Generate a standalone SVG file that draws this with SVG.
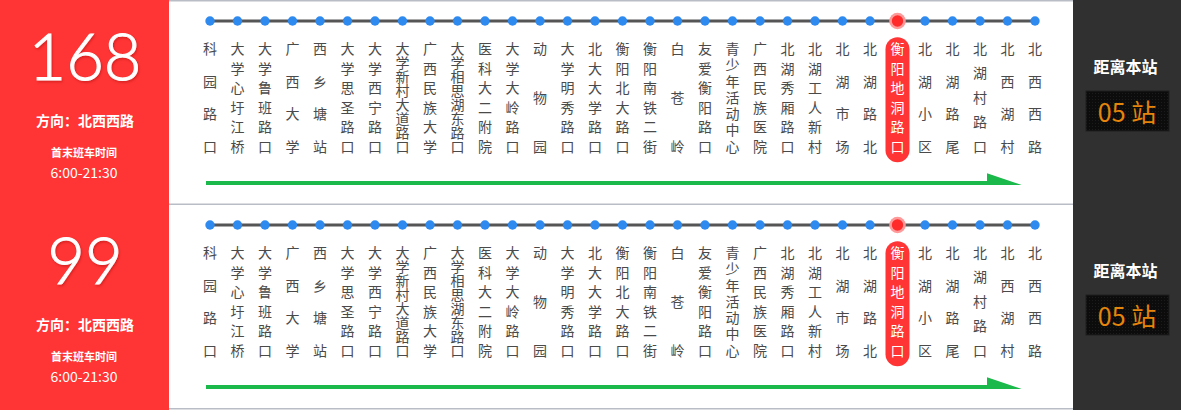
<svg xmlns="http://www.w3.org/2000/svg" width="1181" height="410" viewBox="0 0 1181 410">
<style>
.st text{font-family:"Noto Sans CJK SC","Noto Sans",sans-serif;font-size:14px;fill:#4a4a4a;text-anchor:middle}
.st circle{fill:#2f8af0}
.hl text{fill:#ffffff}
.num{font-family:Lato,"Liberation Sans",sans-serif;font-weight:300;font-size:65px;fill:#fff;stroke:#fff;stroke-width:1;text-anchor:middle}
.w{font-family:"Noto Sans CJK SC",sans-serif;fill:#fff;text-anchor:middle;font-weight:bold}
.tm{font-family:"Noto Sans CJK SC","Noto Sans",sans-serif;fill:#fff;text-anchor:middle;font-size:14px}
.cnt{font-family:"Noto Sans CJK SC","Noto Sans",sans-serif;font-size:25px;fill:#e5850b;text-anchor:middle}
.rail{stroke:#555;stroke-width:3}
.dir{stroke:#1bb84b;stroke-width:4}
.sep{stroke:#b9bdc5;stroke-width:1.5}
</style>
<defs>
<filter id="sh" x="-10%" y="-10%" width="130%" height="130%"><feDropShadow dx="1" dy="1.5" stdDeviation="1.2" flood-color="#800" flood-opacity="0.35"/></filter>
<pattern id="grid" width="3" height="3" patternUnits="userSpaceOnUse"><rect width="3" height="3" fill="#0c0c0c"/><rect width="1" height="1" fill="#1c1c1c"/></pattern>
</defs>
<rect x="0" y="0" width="1181" height="410" fill="#fff"/>
<g id="panels">
<rect x="0" y="0" width="169" height="410" fill="#ff3434"/>
<rect x="1073" y="0" width="108" height="410" fill="#303030"/>
<line class="sep" x1="169" y1="0.7" x2="1073" y2="0.7"/>
<line class="sep" x1="169" y1="204.3" x2="1073" y2="204.3"/>
<line class="sep" x1="169" y1="408.7" x2="1073" y2="408.7"/>
</g>
<g id="info1">
<text class="num" x="85" y="80" filter="url(#sh)">168</text>
<text class="w" x="85" y="126" font-size="14">方向：北西西路</text>
<text class="w" x="84" y="157" font-size="11">首末班车时间</text>
<text class="tm" x="84" y="178">6:00-21:30</text>
</g>
<g id="info2">
<text class="num" x="85" y="284" filter="url(#sh)">99</text>
<text class="w" x="85" y="330" font-size="14">方向：北西西路</text>
<text class="w" x="84" y="361" font-size="11">首末班车时间</text>
<text class="tm" x="84" y="382">6:00-21:30</text>
</g>
<g id="dist1">
<text class="w" x="1125.5" y="73" font-size="16">距离本站</text>
<rect x="1086" y="91" width="83" height="40" fill="url(#grid)" stroke="#1e1e1e"/>
<text class="cnt" x="1127" y="122">05 站</text>
</g>
<g id="dist2">
<text class="w" x="1125.5" y="277" font-size="16">距离本站</text>
<rect x="1086" y="295" width="83" height="40" fill="url(#grid)" stroke="#1e1e1e"/>
<text class="cnt" x="1127" y="326">05 站</text>
</g>
<g id="connectors">
<line class="rail" x1="210" y1="21" x2="1035" y2="21"/>
<line class="dir" x1="206" y1="183" x2="990" y2="183"/>
<polygon points="987,173.3 987,185 1021.7,185" fill="#1bb84b"/>
<line class="rail" x1="210" y1="225" x2="1035" y2="225"/>
<line class="dir" x1="206" y1="387" x2="990" y2="387"/>
<polygon points="987,377.3 987,389 1021.7,389" fill="#1bb84b"/>
</g>
<g id="row1">
<g id="r1s01" class="st" transform="translate(210,0)"><circle cx="0" cy="21" r="4.7"/><text x="0 0 0 0" y="54 86.6 119.1 151.7">科园路口</text></g>
<g id="r1s02" class="st" transform="translate(237.5,0)"><circle cx="0" cy="21" r="4.7"/><text x="0 0 0 0 0 0" y="54 73.5 93.1 112.6 132.2 151.7">大学心圩江桥</text></g>
<g id="r1s03" class="st" transform="translate(265,0)"><circle cx="0" cy="21" r="4.7"/><text x="0 0 0 0 0 0" y="54 73.5 93.1 112.6 132.2 151.7">大学鲁班路口</text></g>
<g id="r1s04" class="st" transform="translate(292.5,0)"><circle cx="0" cy="21" r="4.7"/><text x="0 0 0 0" y="54 86.6 119.1 151.7">广西大学</text></g>
<g id="r1s05" class="st" transform="translate(320,0)"><circle cx="0" cy="21" r="4.7"/><text x="0 0 0 0" y="54 86.6 119.1 151.7">西乡塘站</text></g>
<g id="r1s06" class="st" transform="translate(347.5,0)"><circle cx="0" cy="21" r="4.7"/><text x="0 0 0 0 0 0" y="54 73.5 93.1 112.6 132.2 151.7">大学思圣路口</text></g>
<g id="r1s07" class="st" transform="translate(375,0)"><circle cx="0" cy="21" r="4.7"/><text x="0 0 0 0 0 0" y="54 73.5 93.1 112.6 132.2 151.7">大学西宁路口</text></g>
<g id="r1s08" class="st" transform="translate(402.5,0)"><circle cx="0" cy="21" r="4.7"/><text x="0 0 0 0 0 0 0 0" y="54 68 81.9 95.9 109.8 123.8 137.7 151.7">大学新村大道路口</text></g>
<g id="r1s09" class="st" transform="translate(430,0)"><circle cx="0" cy="21" r="4.7"/><text x="0 0 0 0 0 0" y="54 73.5 93.1 112.6 132.2 151.7">广西民族大学</text></g>
<g id="r1s10" class="st" transform="translate(457.5,0)"><circle cx="0" cy="21" r="4.7"/><text x="0 0 0 0 0 0 0 0" y="54 68 81.9 95.9 109.8 123.8 137.7 151.7">大学相思湖东路口</text></g>
<g id="r1s11" class="st" transform="translate(485,0)"><circle cx="0" cy="21" r="4.7"/><text x="0 0 0 0 0 0" y="54 73.5 93.1 112.6 132.2 151.7">医科大二附院</text></g>
<g id="r1s12" class="st" transform="translate(512.5,0)"><circle cx="0" cy="21" r="4.7"/><text x="0 0 0 0 0 0" y="54 73.5 93.1 112.6 132.2 151.7">大学大岭路口</text></g>
<g id="r1s13" class="st" transform="translate(540,0)"><circle cx="0" cy="21" r="4.7"/><text x="0 0 0" y="54 102.9 151.7">动物园</text></g>
<g id="r1s14" class="st" transform="translate(567.5,0)"><circle cx="0" cy="21" r="4.7"/><text x="0 0 0 0 0 0" y="54 73.5 93.1 112.6 132.2 151.7">大学明秀路口</text></g>
<g id="r1s15" class="st" transform="translate(595,0)"><circle cx="0" cy="21" r="4.7"/><text x="0 0 0 0 0 0" y="54 73.5 93.1 112.6 132.2 151.7">北大大学路口</text></g>
<g id="r1s16" class="st" transform="translate(622.5,0)"><circle cx="0" cy="21" r="4.7"/><text x="0 0 0 0 0 0" y="54 73.5 93.1 112.6 132.2 151.7">衡阳北大路口</text></g>
<g id="r1s17" class="st" transform="translate(650,0)"><circle cx="0" cy="21" r="4.7"/><text x="0 0 0 0 0 0" y="54 73.5 93.1 112.6 132.2 151.7">衡阳南铁二街</text></g>
<g id="r1s18" class="st" transform="translate(677.5,0)"><circle cx="0" cy="21" r="4.7"/><text x="0 0 0" y="54 102.9 151.7">白苍岭</text></g>
<g id="r1s19" class="st" transform="translate(705,0)"><circle cx="0" cy="21" r="4.7"/><text x="0 0 0 0 0 0" y="54 73.5 93.1 112.6 132.2 151.7">友爱衡阳路口</text></g>
<g id="r1s20" class="st" transform="translate(732.5,0)"><circle cx="0" cy="21" r="4.7"/><text x="0 0 0 0 0 0 0" y="54 70.3 86.6 102.9 119.1 135.4 151.7">青少年活动中心</text></g>
<g id="r1s21" class="st" transform="translate(760,0)"><circle cx="0" cy="21" r="4.7"/><text x="0 0 0 0 0 0" y="54 73.5 93.1 112.6 132.2 151.7">广西民族医院</text></g>
<g id="r1s22" class="st" transform="translate(787.5,0)"><circle cx="0" cy="21" r="4.7"/><text x="0 0 0 0 0 0" y="54 73.5 93.1 112.6 132.2 151.7">北湖秀厢路口</text></g>
<g id="r1s23" class="st" transform="translate(815,0)"><circle cx="0" cy="21" r="4.7"/><text x="0 0 0 0 0 0" y="54 73.5 93.1 112.6 132.2 151.7">北湖工人新村</text></g>
<g id="r1s24" class="st" transform="translate(842.5,0)"><circle cx="0" cy="21" r="4.7"/><text x="0 0 0 0" y="54 86.6 119.1 151.7">北湖市场</text></g>
<g id="r1s25" class="st" transform="translate(870,0)"><circle cx="0" cy="21" r="4.7"/><text x="0 0 0 0" y="54 86.6 119.1 151.7">北湖路北</text></g>
<g id="r1s26" class="st hl" transform="translate(897.5,0)"><circle cx="0" cy="21" r="8.3" style="fill:#ff9a9a"/><circle cx="0" cy="21" r="5.7" style="fill:#ff2a2a"/><rect x="-12" y="37.3" width="24" height="125" rx="12" fill="#ff3434"/><text x="0 0 0 0 0 0" y="54 73.5 93.1 112.6 132.2 151.7">衡阳地洞路口</text></g>
<g id="r1s27" class="st" transform="translate(925,0)"><circle cx="0" cy="21" r="4.7"/><text x="0 0 0 0" y="54 86.6 119.1 151.7">北湖小区</text></g>
<g id="r1s28" class="st" transform="translate(952.5,0)"><circle cx="0" cy="21" r="4.7"/><text x="0 0 0 0" y="54 86.6 119.1 151.7">北湖路尾</text></g>
<g id="r1s29" class="st" transform="translate(980,0)"><circle cx="0" cy="21" r="4.7"/><text x="0 0 0 0 0" y="54 78.4 102.9 127.3 151.7">北湖村路口</text></g>
<g id="r1s30" class="st" transform="translate(1007.5,0)"><circle cx="0" cy="21" r="4.7"/><text x="0 0 0 0" y="54 86.6 119.1 151.7">北西湖村</text></g>
<g id="r1s31" class="st" transform="translate(1035,0)"><circle cx="0" cy="21" r="4.7"/><text x="0 0 0 0" y="54 86.6 119.1 151.7">北西西路</text></g>
</g>
<g id="row2">
<g id="r2s01" class="st" transform="translate(210,204)"><circle cx="0" cy="21" r="4.7"/><text x="0 0 0 0" y="54 86.6 119.1 151.7">科园路口</text></g>
<g id="r2s02" class="st" transform="translate(237.5,204)"><circle cx="0" cy="21" r="4.7"/><text x="0 0 0 0 0 0" y="54 73.5 93.1 112.6 132.2 151.7">大学心圩江桥</text></g>
<g id="r2s03" class="st" transform="translate(265,204)"><circle cx="0" cy="21" r="4.7"/><text x="0 0 0 0 0 0" y="54 73.5 93.1 112.6 132.2 151.7">大学鲁班路口</text></g>
<g id="r2s04" class="st" transform="translate(292.5,204)"><circle cx="0" cy="21" r="4.7"/><text x="0 0 0 0" y="54 86.6 119.1 151.7">广西大学</text></g>
<g id="r2s05" class="st" transform="translate(320,204)"><circle cx="0" cy="21" r="4.7"/><text x="0 0 0 0" y="54 86.6 119.1 151.7">西乡塘站</text></g>
<g id="r2s06" class="st" transform="translate(347.5,204)"><circle cx="0" cy="21" r="4.7"/><text x="0 0 0 0 0 0" y="54 73.5 93.1 112.6 132.2 151.7">大学思圣路口</text></g>
<g id="r2s07" class="st" transform="translate(375,204)"><circle cx="0" cy="21" r="4.7"/><text x="0 0 0 0 0 0" y="54 73.5 93.1 112.6 132.2 151.7">大学西宁路口</text></g>
<g id="r2s08" class="st" transform="translate(402.5,204)"><circle cx="0" cy="21" r="4.7"/><text x="0 0 0 0 0 0 0 0" y="54 68 81.9 95.9 109.8 123.8 137.7 151.7">大学新村大道路口</text></g>
<g id="r2s09" class="st" transform="translate(430,204)"><circle cx="0" cy="21" r="4.7"/><text x="0 0 0 0 0 0" y="54 73.5 93.1 112.6 132.2 151.7">广西民族大学</text></g>
<g id="r2s10" class="st" transform="translate(457.5,204)"><circle cx="0" cy="21" r="4.7"/><text x="0 0 0 0 0 0 0 0" y="54 68 81.9 95.9 109.8 123.8 137.7 151.7">大学相思湖东路口</text></g>
<g id="r2s11" class="st" transform="translate(485,204)"><circle cx="0" cy="21" r="4.7"/><text x="0 0 0 0 0 0" y="54 73.5 93.1 112.6 132.2 151.7">医科大二附院</text></g>
<g id="r2s12" class="st" transform="translate(512.5,204)"><circle cx="0" cy="21" r="4.7"/><text x="0 0 0 0 0 0" y="54 73.5 93.1 112.6 132.2 151.7">大学大岭路口</text></g>
<g id="r2s13" class="st" transform="translate(540,204)"><circle cx="0" cy="21" r="4.7"/><text x="0 0 0" y="54 102.9 151.7">动物园</text></g>
<g id="r2s14" class="st" transform="translate(567.5,204)"><circle cx="0" cy="21" r="4.7"/><text x="0 0 0 0 0 0" y="54 73.5 93.1 112.6 132.2 151.7">大学明秀路口</text></g>
<g id="r2s15" class="st" transform="translate(595,204)"><circle cx="0" cy="21" r="4.7"/><text x="0 0 0 0 0 0" y="54 73.5 93.1 112.6 132.2 151.7">北大大学路口</text></g>
<g id="r2s16" class="st" transform="translate(622.5,204)"><circle cx="0" cy="21" r="4.7"/><text x="0 0 0 0 0 0" y="54 73.5 93.1 112.6 132.2 151.7">衡阳北大路口</text></g>
<g id="r2s17" class="st" transform="translate(650,204)"><circle cx="0" cy="21" r="4.7"/><text x="0 0 0 0 0 0" y="54 73.5 93.1 112.6 132.2 151.7">衡阳南铁二街</text></g>
<g id="r2s18" class="st" transform="translate(677.5,204)"><circle cx="0" cy="21" r="4.7"/><text x="0 0 0" y="54 102.9 151.7">白苍岭</text></g>
<g id="r2s19" class="st" transform="translate(705,204)"><circle cx="0" cy="21" r="4.7"/><text x="0 0 0 0 0 0" y="54 73.5 93.1 112.6 132.2 151.7">友爱衡阳路口</text></g>
<g id="r2s20" class="st" transform="translate(732.5,204)"><circle cx="0" cy="21" r="4.7"/><text x="0 0 0 0 0 0 0" y="54 70.3 86.6 102.9 119.1 135.4 151.7">青少年活动中心</text></g>
<g id="r2s21" class="st" transform="translate(760,204)"><circle cx="0" cy="21" r="4.7"/><text x="0 0 0 0 0 0" y="54 73.5 93.1 112.6 132.2 151.7">广西民族医院</text></g>
<g id="r2s22" class="st" transform="translate(787.5,204)"><circle cx="0" cy="21" r="4.7"/><text x="0 0 0 0 0 0" y="54 73.5 93.1 112.6 132.2 151.7">北湖秀厢路口</text></g>
<g id="r2s23" class="st" transform="translate(815,204)"><circle cx="0" cy="21" r="4.7"/><text x="0 0 0 0 0 0" y="54 73.5 93.1 112.6 132.2 151.7">北湖工人新村</text></g>
<g id="r2s24" class="st" transform="translate(842.5,204)"><circle cx="0" cy="21" r="4.7"/><text x="0 0 0 0" y="54 86.6 119.1 151.7">北湖市场</text></g>
<g id="r2s25" class="st" transform="translate(870,204)"><circle cx="0" cy="21" r="4.7"/><text x="0 0 0 0" y="54 86.6 119.1 151.7">北湖路北</text></g>
<g id="r2s26" class="st hl" transform="translate(897.5,204)"><circle cx="0" cy="21" r="8.3" style="fill:#ff9a9a"/><circle cx="0" cy="21" r="5.7" style="fill:#ff2a2a"/><rect x="-12" y="37.3" width="24" height="125" rx="12" fill="#ff3434"/><text x="0 0 0 0 0 0" y="54 73.5 93.1 112.6 132.2 151.7">衡阳地洞路口</text></g>
<g id="r2s27" class="st" transform="translate(925,204)"><circle cx="0" cy="21" r="4.7"/><text x="0 0 0 0" y="54 86.6 119.1 151.7">北湖小区</text></g>
<g id="r2s28" class="st" transform="translate(952.5,204)"><circle cx="0" cy="21" r="4.7"/><text x="0 0 0 0" y="54 86.6 119.1 151.7">北湖路尾</text></g>
<g id="r2s29" class="st" transform="translate(980,204)"><circle cx="0" cy="21" r="4.7"/><text x="0 0 0 0 0" y="54 78.4 102.9 127.3 151.7">北湖村路口</text></g>
<g id="r2s30" class="st" transform="translate(1007.5,204)"><circle cx="0" cy="21" r="4.7"/><text x="0 0 0 0" y="54 86.6 119.1 151.7">北西湖村</text></g>
<g id="r2s31" class="st" transform="translate(1035,204)"><circle cx="0" cy="21" r="4.7"/><text x="0 0 0 0" y="54 86.6 119.1 151.7">北西西路</text></g>
</g>
</svg>
